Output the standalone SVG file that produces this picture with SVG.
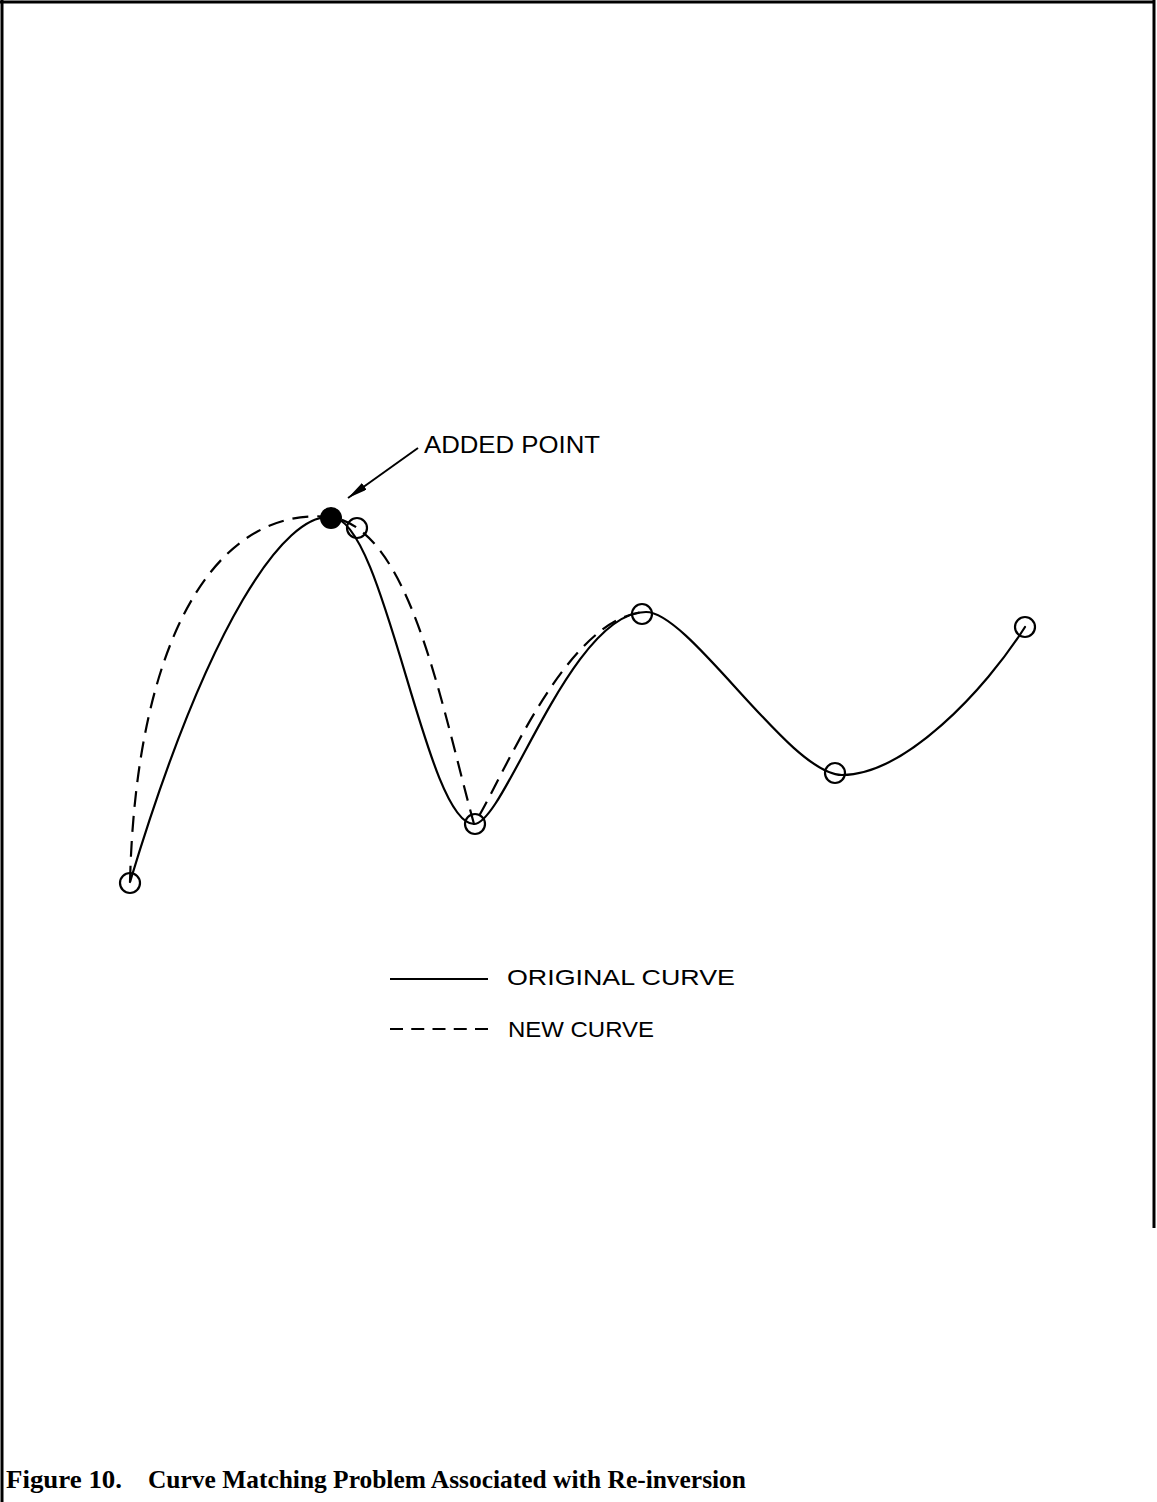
<svg xmlns="http://www.w3.org/2000/svg" width="1157" height="1502" viewBox="0 0 1157 1502">
<style>
.curve{fill:none;stroke:#000;stroke-width:2.2;stroke-linecap:round;stroke-linejoin:round}
.dash{stroke-dasharray:16 9;stroke-linecap:butt}
.pt{fill:none;stroke:#000;stroke-width:2.2}
.lbl{font-family:"Liberation Sans","DejaVu Sans",sans-serif;fill:#000}
.cap{font-family:"Liberation Serif","Times New Roman",serif;font-weight:bold;fill:#000}
.frame{stroke:#000;stroke-width:3;fill:none}
</style>
<defs>
<marker id="arr" viewBox="0 0 20 8" refX="20" refY="4" markerWidth="20" markerHeight="8" markerUnits="userSpaceOnUse" orient="auto">
<path d="M0,0 L20,4 L0,8 Z" fill="#000"/>
</marker>
</defs>
<rect width="1157" height="1502" fill="#fff"/>
<g id="frame">
<line class="frame" x1="0" y1="2" x2="1155" y2="2"/>
<line class="frame" x1="2" y1="0" x2="2" y2="1502"/>
<line class="frame" x1="1154" y1="0" x2="1154" y2="1228"/>
</g>
<g id="connectors">
<path id="original-curve" class="curve" d="M130,882 C209,620 285,513 331,517 C385,517 425,824 474,824 C505,824 570,612 646,612 C690,612 790,775 842,775 C905,775 985,690 1025,627"/>
<path id="new-curve" class="curve dash" d="M130,882 C136,640 215,505 331,517 C410,530 440,700 474,824 C498,790 565,615 646,612"/>
<line id="arrow" x1="418" y1="448" x2="348" y2="498" stroke="#000" stroke-width="2" marker-end="url(#arr)"/>
</g>
<g id="points">
<circle class="pt" cx="130" cy="883" r="10"/>
<circle id="added-point" cx="331" cy="518" r="11" fill="#000"/>
<circle class="pt" cx="357" cy="528" r="10"/>
<circle class="pt" cx="475" cy="824" r="10"/>
<circle class="pt" cx="642" cy="614" r="10"/>
<circle class="pt" cx="835" cy="773" r="10"/>
<circle class="pt" cx="1025" cy="627" r="10"/>
</g>
<g id="label-added">
<text class="lbl" x="424" y="453" font-size="24" textLength="176" lengthAdjust="spacingAndGlyphs">ADDED POINT</text>
</g>
<g id="legend">
<line x1="390" y1="979" x2="488" y2="979" stroke="#000" stroke-width="2"/>
<text class="lbl" x="507" y="985" font-size="22" textLength="228" lengthAdjust="spacingAndGlyphs">ORIGINAL CURVE</text>
<line x1="390" y1="1029" x2="488" y2="1029" stroke="#000" stroke-width="2" stroke-dasharray="13 8.25"/>
<text class="lbl" x="508" y="1037" font-size="22" textLength="146" lengthAdjust="spacingAndGlyphs">NEW CURVE</text>
</g>
<g id="caption">
<text class="cap" x="6" y="1488" font-size="26" textLength="116" lengthAdjust="spacingAndGlyphs">Figure 10.</text>
<text class="cap" x="148" y="1488" font-size="26" textLength="598" lengthAdjust="spacingAndGlyphs">Curve Matching Problem Associated with Re-inversion</text>
</g>
</svg>
